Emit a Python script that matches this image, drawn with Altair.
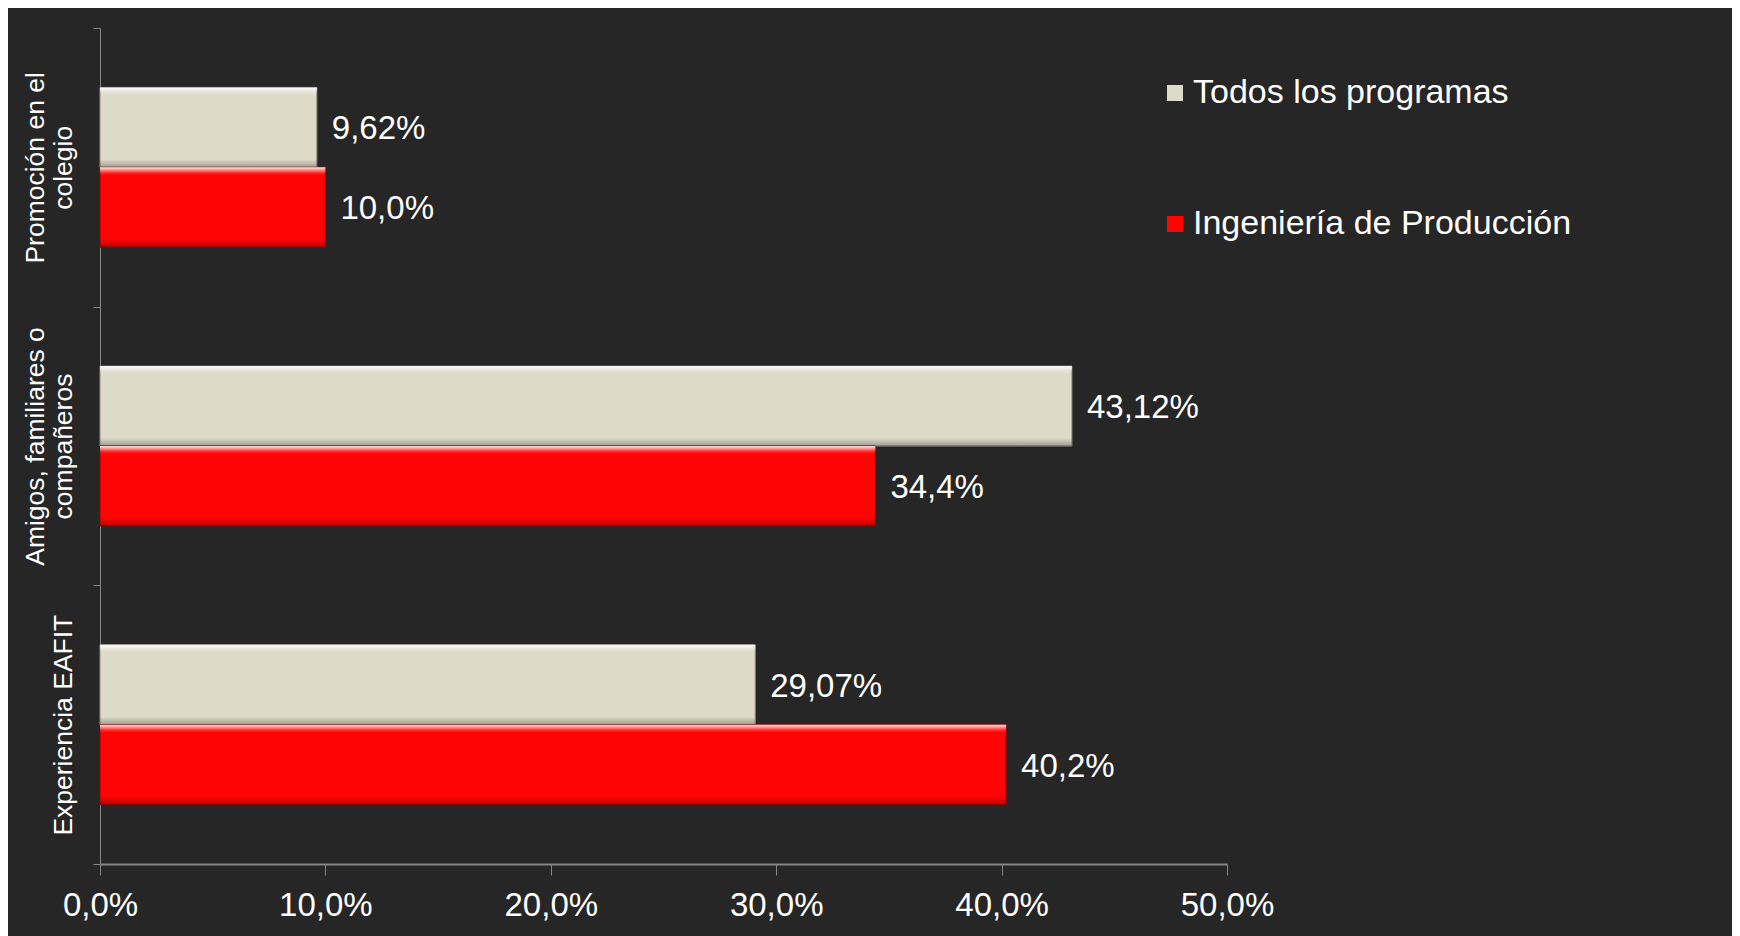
import altair as alt
import pandas as pd

categories = ["Promoción en el\ncolegio", "Amigos, familiares o\ncompañeros", "Experiencia EAFIT"]
series = ["Todos los programas", "Ingeniería de Producción"]
todos = [9.62, 43.12, 29.07]
ingenieria = [10.0, 34.4, 40.2]
todos_labels = ["9,62%", "43,12%", "29,07%"]
ing_labels = ["10,0%", "34,4%", "40,2%"]
x_ticks = [0, 10, 20, 30, 40, 50]
colors = ["#DDDAC8", "#FF0404"]
strokes = ["#8E8C80", "#9A0000"]

rows = []
for i, c in enumerate(categories):
    rows.append(dict(cat=c, serie=series[0], value=todos[i], label=todos_labels[i]))
    rows.append(dict(cat=c, serie=series[1], value=ingenieria[i], label=ing_labels[i]))
df = pd.DataFrame(rows)

FONT = "Liberation Sans"
AX = "#868686"

y_enc = alt.Y(
    "cat:N", sort=categories, title=None,
    scale=alt.Scale(paddingInner=0, paddingOuter=0),
    axis=alt.Axis(
        labelExpr="indexof(datum.label, '\\n') >= 0 ? split(datum.label, '\\n') : ['', datum.label]",
        labelAngle=-90, labelAlign="center", labelBaseline="bottom",
        labelFont=FONT, labelFontSize=26.5, labelColor="#FFFFFF",
        labelLineHeight=28, labelLimit=1000, labelPadding=44,
        domainColor=AX, domainWidth=1, tickColor=AX, tickSize=7,
        tickBand="extent", grid=False,
    ),
)
yoff = alt.YOffset("serie:N", sort=series, scale=alt.Scale(paddingInner=0, paddingOuter=0.744))
x_enc = alt.X(
    "value:Q", title=None,
    scale=alt.Scale(domain=[0, 50], nice=False),
    axis=alt.Axis(
        values=x_ticks, grid=False,
        labelExpr="replace(format(datum.value, '.1f'), '.', ',') + '%'",
        labelFont=FONT, labelFontSize=33, labelColor="#FFFFFF", labelPadding=14,
        domainColor=AX, domainWidth=2, tickColor=AX, tickSize=11, tickWidth=1,
        labelFlush=False,
    ),
)

bars = alt.Chart(df).mark_bar(strokeWidth=1).encode(
    y=y_enc, yOffset=yoff, x=x_enc,
    color=alt.Color(
        "serie:N", sort=series,
        scale=alt.Scale(domain=series, range=colors),
        legend=alt.Legend(
            title=None, orient="none", legendX=1058, legendY=48,
            symbolType="square", symbolSize=256, symbolStrokeWidth=0,
            labelFont=FONT, labelFontSize=34, labelColor="#FFFFFF",
            labelOffset=1, labelLimit=1000, rowPadding=97, padding=0,
        ),
    ),
    stroke=alt.Stroke("serie:N", sort=series, scale=alt.Scale(domain=series, range=strokes), legend=None),
)

bevel = alt.Chart(df).mark_bar(
    fill=alt.Gradient(
        gradient="linear", x1=0, y1=0, x2=0, y2=1,
        stops=[
            alt.GradientStop(offset=0.0, color="rgba(255,255,255,0.9)"),
            alt.GradientStop(offset=0.07, color="rgba(255,255,255,0.15)"),
            alt.GradientStop(offset=0.10, color="rgba(255,255,255,0.0)"),
            alt.GradientStop(offset=0.90, color="rgba(0,0,0,0.0)"),
            alt.GradientStop(offset=1.0, color="rgba(0,0,0,0.28)"),
        ],
    ),
    strokeWidth=0,
).encode(y=alt.Y("cat:N", sort=categories), yOffset=yoff, x="value:Q")

text = alt.Chart(df).mark_text(
    align="left", baseline="middle", dx=15, dy=2, font=FONT, fontSize=33, color="#FFFFFF"
).encode(y=alt.Y("cat:N", sort=categories), yOffset=yoff, x="value:Q", text="label:N")

chart = alt.layer(bars, bevel, text).properties(
    width=1127, height=836,
    background="#262626",
    padding={"left": 92, "top": 20, "right": 505, "bottom": 72},
    autosize=alt.AutoSizeParams(type="none"),
).configure_view(stroke=None)

chart.save("out.html", embed_options={"renderer": "svg", "actions": False})
